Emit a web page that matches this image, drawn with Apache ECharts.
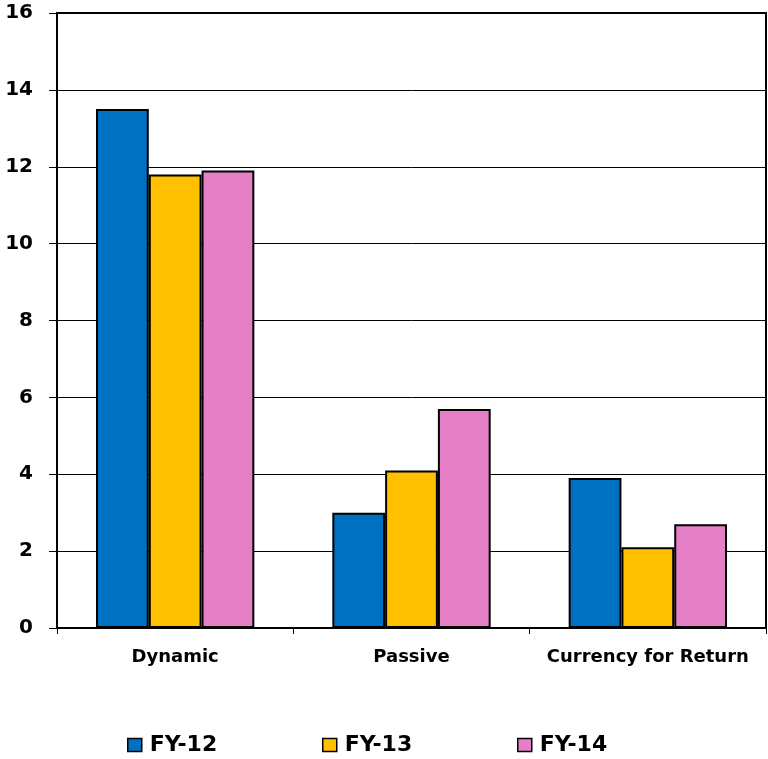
<!DOCTYPE html>
<html>
<head>
<meta charset="utf-8">
<script src="https://cdn.jsdelivr.net/npm/echarts@6/dist/echarts.min.js"></script>
<style>
  html, body { margin: 0; padding: 0; background: #fff; }
  #chart { width: 768px; height: 759px; }
</style>
</head>
<body>
<div id="chart"></div>
<script>
// Categories and yearly values
const categories = ['Dynamic', 'Passive', 'Currency for Return'];
const seriesNames = ['FY-12', 'FY-13', 'FY-14'];
const fy12 = [13.5, 3.0, 3.9];
const fy13 = [11.8, 4.1, 2.1];
const fy14 = [11.9, 5.7, 2.7];
const colors = ['#0070C0', '#FFC000', '#E580C6'];

const font = 'Tahoma, "DejaVu Sans", Verdana, sans-serif';
const values = [fy12, fy13, fy14];

const chart = echarts.init(document.getElementById('chart'), null, { renderer: 'canvas' });

// one legend block per series, spaced evenly along the bottom
const legendLefts = [127, 322, 517];

chart.setOption({
  backgroundColor: '#ffffff',
  animation: false,
  grid: {
    left: 57, right: 2, top: 13, bottom: 131,
    show: true, borderColor: '#000', borderWidth: 2, backgroundColor: 'transparent'
  },
  legend: seriesNames.map((name, i) => ({
    data: [name],
    left: legendLefts[i],
    top: 734,
    padding: 0,
    itemWidth: 14,
    itemHeight: 13,
    icon: 'rect',
    textStyle: { fontFamily: font, fontWeight: 'bold', fontSize: 22, color: '#000', padding: [0, 0, 0, 3] },
    itemStyle: { borderColor: '#000', borderWidth: 1.5 }
  })),
  xAxis: {
    type: 'category',
    data: categories,
    axisLine: { show: true, lineStyle: { color: '#000', width: 2 } },
    axisTick: { show: true, interval: 0, alignWithLabel: false, length: 6, lineStyle: { color: '#000', width: 1 } },
    axisLabel: { interval: 0, hideOverlap: false, fontFamily: font, fontWeight: 'bold', fontSize: 18, color: '#000', margin: 20 },
    splitLine: { show: false }
  },
  yAxis: {
    type: 'value',
    min: 0, max: 16, interval: 2,
    axisLine: { show: true, lineStyle: { color: '#000', width: 2 } },
    axisTick: { show: true, length: 8, lineStyle: { color: '#000', width: 1 } },
    axisLabel: { fontFamily: font, fontWeight: 'bold', fontSize: 20, color: '#000', margin: 24 },
    splitLine: { show: true, lineStyle: { color: '#000', width: 1 } }
  },
  series: seriesNames.map((name, i) => ({
    name: name,
    type: 'bar',
    data: values[i],
    barGap: '0%',
    barCategoryGap: '33%',
    itemStyle: { color: colors[i], borderColor: '#000', borderWidth: 2 }
  }))
});
</script>
</body>
</html>
